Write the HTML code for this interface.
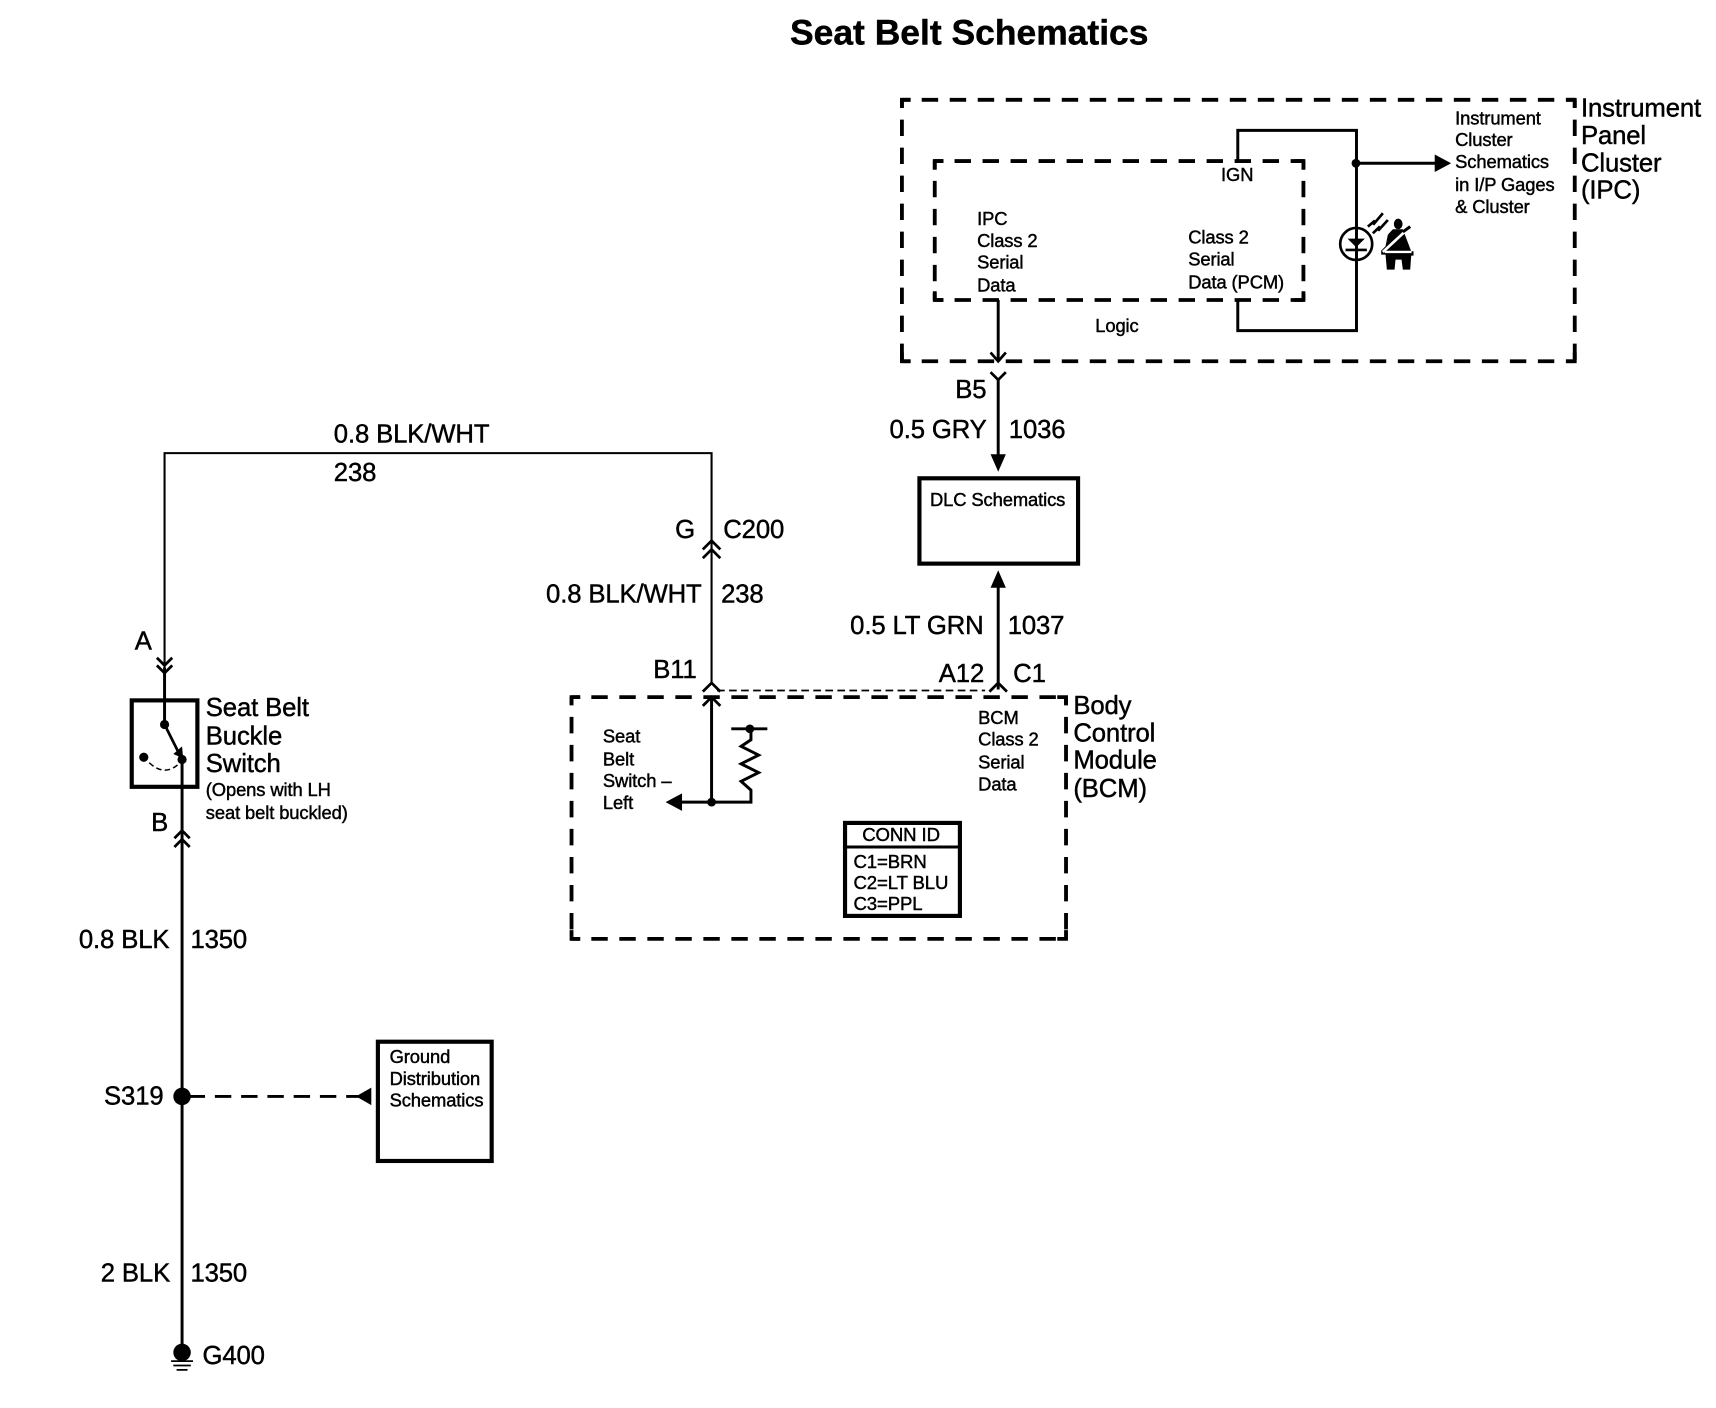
<!DOCTYPE html>
<html><head><meta charset="utf-8"><title>Seat Belt Schematics</title>
<style>
html,body{margin:0;padding:0;background:#fff;width:1716px;height:1408px;overflow:hidden}
svg{display:block}
text{font-family:"Liberation Sans",sans-serif;fill:#000;stroke:#000;stroke-width:.4;transform:translate(-.3px,-.6px)}
.l{font-size:23.5px;letter-spacing:-.12px}
.s{font-size:16.8px;letter-spacing:-.1px}
.m{font-size:17px;letter-spacing:-.1px}
.t{font-size:32.4px;font-weight:bold}
.w{fill:none;stroke:#000;stroke-width:2.7}
.n{fill:none;stroke:#000;stroke-width:1.9}
.d{fill:none;stroke:#000;stroke-width:3.5;stroke-dasharray:15 10.6;stroke-dashoffset:7.5}
.k{fill:none;stroke:#000;stroke-width:3.5}
.b{fill:none;stroke:#000;stroke-width:3.8}
.c{fill:none;stroke:#000;stroke-width:2.5}
</style></head><body>
<svg width="1716" height="1408" viewBox="-0.4 -0.2 1568.5 1287" xmlns="http://www.w3.org/2000/svg">
<rect x="-1" y="-1" width="1571" height="1289" fill="#fff"/>
<text class="t" x="722" y="41">Seat Belt Schematics</text>

<!-- IPC -->
<path class="d" d="M824 91H1439M824 91V330M1439 91V330M824 330H1439"/>
<path class="k" d="M824 98V91H832M1431 91H1439V98M824 322V330H832M1431 330H1439V322"/>
<path class="d" d="M854 147H1191M854 147V274M1191 147V274M854 274H1191"/>
<path class="k" d="M854 155V147H862M1183 147H1191V155M854 266V274H862M1183 274H1191V266"/>
<path class="w" d="M1131 147V119H1239.5V302H1131V274M1239 149H1312"/>
<circle cx="1239" cy="149" r="4"/>
<path d="M1311 141L1326 149L1311 157Z"/>
<g transform="translate(1224 183.8) scale(.3047)">
<circle cx="50" cy="128" r="48" fill="none" stroke="#000" stroke-width="8"/>
<path d="M24 112H76L50 138Z"/>
<path d="M18 146H82" stroke="#000" stroke-width="8" fill="none"/>
<path d="M85 76L106 58L101 70L130 36M100 96L121 76L116 88L145 56" fill="none" stroke="#000" stroke-width="8"/>
<ellipse cx="176" cy="68" rx="13" ry="16"/>
<path d="M160 84H190L196 100L215 150H222V163H215L212 205H190L186 175H168L165 205H142L138 160H125V148L138 135L145 100Z"/>
<path d="M130 152L195 92" stroke="#fff" stroke-width="8" fill="none"/>
<path d="M190 92L212 76" stroke="#000" stroke-width="9" fill="none"/>
<path d="M136 152H216" stroke="#fff" stroke-width="7" fill="none"/>
</g>
<text class="s" x="1330" y="114">Instrument</text>
<text class="s" x="1330" y="134">Cluster</text>
<text class="s" x="1330" y="154">Schematics</text>
<text class="s" x="1330" y="175">in I/P Gages</text>
<text class="s" x="1330" y="195">&amp; Cluster</text>
<text class="s" x="1116" y="166">IGN</text>
<text class="s" x="893" y="206">IPC</text>
<text class="s" x="893" y="226">Class 2</text>
<text class="s" x="893" y="246">Serial</text>
<text class="s" x="893" y="267">Data</text>
<text class="s" x="1086" y="223">Class 2</text>
<text class="s" x="1086" y="243">Serial</text>
<text class="s" x="1086" y="264">Data (PCM)</text>
<text class="s" x="1001" y="304">Logic</text>
<text class="l" x="1445" y="107">Instrument</text>
<text class="l" x="1445" y="132">Panel</text>
<text class="l" x="1445" y="157">Cluster</text>
<text class="l" x="1445" y="182">(IPC)</text>

<path class="w" d="M912 274V330"/>
<path class="c" d="M905 322L912 330L919 322"/>
<path class="c" d="M905 340L912 347L919 340"/>
<path class="w" d="M912 347V416"/>
<path d="M905 415H919L912 431Z"/>
<text class="l" x="873" y="364">B5</text>
<text class="l" x="813" y="401">0.5 GRY</text>
<text class="l" x="922" y="401">1036</text>

<rect class="b" x="840" y="437" width="145" height="78"/>
<text class="s" x="850" y="463">DLC Schematics</text>

<path d="M905 537H919L912 521Z"/>
<path class="w" d="M912 536V630"/>
<path class="c" d="M904 632L912 624L920 632"/>
<text class="l" x="777" y="580">0.5 LT GRN</text>
<text class="l" x="921" y="580">1037</text>
<text class="l" x="858" y="624">A12</text>
<text class="l" x="926" y="624">C1</text>

<!-- BLK/WHT -->
<path class="n" d="M650 625V414H150V612"/>
<text class="l" x="305" y="405">0.8 BLK/WHT</text>
<text class="l" x="305" y="440">238</text>
<path class="c" d="M642 502L650 494L658 502M642 510L650 502L658 510"/>
<text class="l" x="617" y="492">G</text>
<text class="l" x="661" y="492">C200</text>
<text class="l" x="499" y="551">0.8 BLK/WHT</text>
<text class="l" x="659" y="551">238</text>
<text class="l" x="597" y="620">B11</text>
<path class="c" d="M642 632L650 624L658 632"/>
<path d="M655 631H900" fill="none" stroke="#000" stroke-width="1.6" stroke-dasharray="7 4"/>

<!-- BCM -->
<path class="d" d="M522 637H974M522 637V858M974 637V858M522 858H974"/>
<path class="k" d="M522 644V637H530M966 637H974V644M522 850V858H530M966 858H974V850"/>
<path class="c" d="M642 645L650 637L658 645"/>
<path class="w" d="M650 637V733M622 733H686V722L677 714L693 706L677 698L693 690L677 682L686 676V666M668 666H701"/>
<circle cx="650" cy="733" r="4"/><circle cx="685" cy="666" r="4"/>
<path d="M608 733L623 725V741Z"/>
<text class="s" x="551" y="679">Seat</text>
<text class="s" x="551" y="700">Belt</text>
<text class="s" x="551" y="720">Switch –</text>
<text class="s" x="551" y="740">Left</text>
<text class="s" x="894" y="662">BCM</text>
<text class="s" x="894" y="682">Class 2</text>
<text class="s" x="894" y="703">Serial</text>
<text class="s" x="894" y="723">Data</text>
<text class="l" x="981" y="653">Body</text>
<text class="l" x="981" y="678">Control</text>
<text class="l" x="981" y="703">Module</text>
<text class="l" x="981" y="729">(BCM)</text>
<rect class="b" x="772" y="752" width="105" height="85"/>
<path class="w" d="M772 774H877"/>
<text class="m" x="788" y="769">CONN ID</text>
<text class="m" x="780" y="794">C1=BRN</text>
<text class="m" x="780" y="813">C2=LT BLU</text>
<text class="m" x="780" y="832">C3=PPL</text>

<!-- Switch -->
<text class="l" x="123" y="594">A</text>
<path class="c" d="M143 601L150 608L157 601M143 608L150 615L157 608"/>
<rect class="b" x="120" y="640" width="60" height="79"/>
<path class="w" d="M150 610V662"/>
<circle cx="150" cy="662" r="4.2"/><circle cx="166" cy="694" r="4.2"/><circle cx="131" cy="692" r="4.2"/>
<path class="c" d="M150 662L164 690"/>
<path d="M158 689L167 693L166 682Z"/>
<path d="M136 697Q150 710 163 698" fill="none" stroke="#000" stroke-width="1.4" stroke-dasharray="5 3"/>
<text class="l" x="188" y="655">Seat Belt</text>
<text class="l" x="188" y="681">Buckle</text>
<text class="l" x="188" y="706">Switch</text>
<text class="s" x="188" y="728">(Opens with LH</text>
<text class="s" x="188" y="749">seat belt buckled)</text>
<text class="l" x="138" y="760">B</text>
<path class="w" d="M166 694V1232"/>
<path class="c" d="M159 766L166 759L173 766M159 774L166 767L173 774"/>
<text class="l" x="72" y="867">0.8 BLK</text>
<text class="l" x="174" y="867">1350</text>
<text class="l" x="95" y="1010">S319</text>
<circle cx="166" cy="1002" r="8"/>
<path d="M172 1002H328" fill="none" stroke="#000" stroke-width="2.6" stroke-dasharray="15 9"/>
<path d="M325 1002L339 994V1010Z"/>
<rect class="b" x="345" y="952" width="104" height="109"/>
<text class="s" x="356" y="972">Ground</text>
<text class="s" x="356" y="992">Distribution</text>
<text class="s" x="356" y="1012">Schematics</text>
<text class="l" x="92" y="1172">2 BLK</text>
<text class="l" x="174" y="1172">1350</text>
<circle cx="166" cy="1236" r="8"/>
<path d="M156 1244H176M158 1248H174M161 1252H171" fill="none" stroke="#000" stroke-width="1.6"/>
<text class="l" x="185" y="1247">G400</text>
</svg>
</body></html>
